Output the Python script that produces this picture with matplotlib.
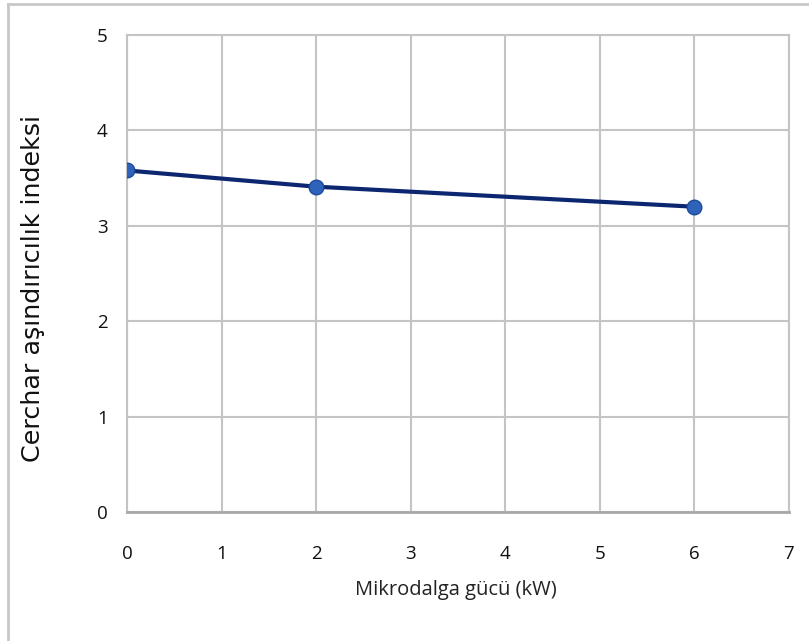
import matplotlib
matplotlib.use("Agg")
import matplotlib.pyplot as plt
from matplotlib.lines import Line2D

power_kw = [0, 2, 6]
cai_values = [3.58, 3.41, 3.20]
x_ticks = [0, 1, 2, 3, 4, 5, 6, 7]
y_ticks = [0, 1, 2, 3, 4, 5]
x_label = "Mikrodalga gücü (kW)"
y_label = "Cerchar aşındırıcılık indeksi"

narrow = "Open Sans"

fig = plt.figure(figsize=(8.09, 6.41), dpi=100)
ax = fig.add_axes([127 / 809, 1 - 512 / 641, (789 - 127) / 809, (512 - 35) / 641])

ax.plot(power_kw, cai_values, color="#0c2670", linewidth=3, zorder=3,
        marker="o", markersize=10.5, markerfacecolor="#2f63b9",
        markeredgecolor="#1d4a9a", markeredgewidth=1)

ax.set_xlim(0, 7)
ax.set_ylim(0, 5)
ax.set_xticks(x_ticks)
ax.set_yticks(y_ticks)
ax.grid(True, color="#c4c4c4", linewidth=1.5)
ax.set_axisbelow(True)
for side, sp in ax.spines.items():
    sp.set_color("#c4c4c4")
    sp.set_linewidth(1.5)
ax.spines["bottom"].set_color("#a8a8a8")
ax.spines["bottom"].set_linewidth(2)
ax.tick_params(length=0, labelsize=13.5, labelcolor="#111111")
ax.tick_params(axis="y", pad=14)
ax.tick_params(axis="x", pad=24)
for lbl in ax.get_xticklabels() + ax.get_yticklabels():
    lbl.set_fontfamily(narrow)

ax.set_xlabel(x_label, fontsize=14.5, fontfamily=narrow, color="#222222")
ax.xaxis.set_label_coords((456 - 127) / 662, -(590 - 512) / 477)
ax.xaxis.label.set_verticalalignment("center")
ax.set_ylabel(y_label, fontsize=18.3, fontfamily="DejaVu Sans", color="#111111")
ax.yaxis.set_label_coords(-(127 - 33) / 662, (512 - 288) / 477)
ax.yaxis.label.set_verticalalignment("center")

# outer chart frame
fig.add_artist(Line2D([8 / 809, 8 / 809], [0, 1 - 4 / 641], transform=fig.transFigure,
                      color="#c8c8c8", linewidth=2))
fig.add_artist(Line2D([8 / 809, 1], [1 - 4 / 641, 1 - 4 / 641], transform=fig.transFigure,
                      color="#c8c8c8", linewidth=2))

fig.savefig("out.png", dpi=100)
